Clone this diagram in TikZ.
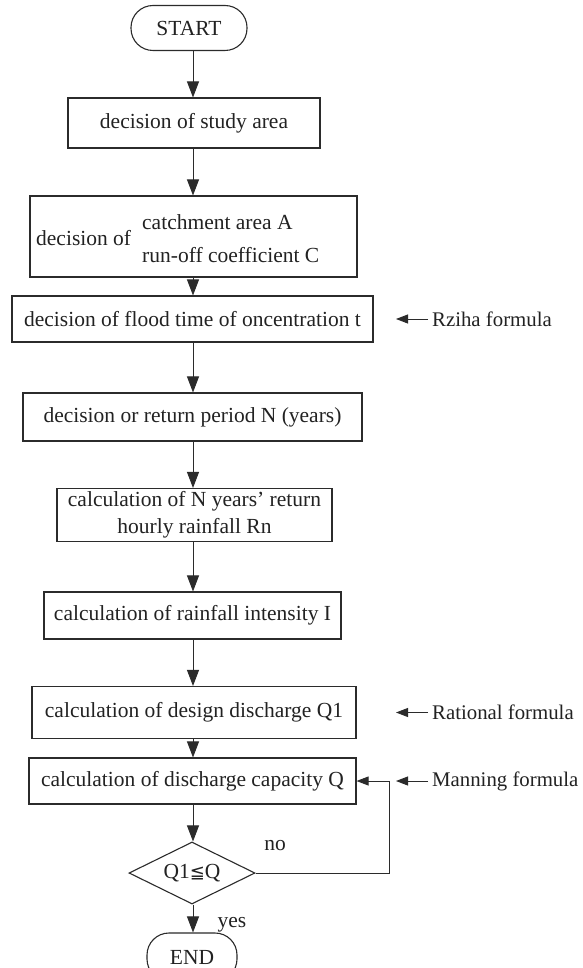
\documentclass[tikz,border=0pt]{standalone}
\usepackage{fontspec}
\setmainfont{Liberation Serif}
\newfontfamily\symfont{DejaVu Sans}
\usetikzlibrary{arrows.meta,shapes.geometric}
\definecolor{linec}{HTML}{2B2B2B}
\definecolor{textc}{HTML}{222222}
\begin{document}
\begin{tikzpicture}[x=1pt,y=-1pt,
  font=\fontsize{21.5}{25}\selectfont,
  box/.style={draw=linec, line width=1.1pt, inner sep=0pt, text=textc, rectangle},
  term/.style={box, rounded corners=22pt},
  lbl/.style={inner sep=0pt, text=textc},
  flbl/.style={lbl, anchor=west, font=\fontsize{20.8}{25}\selectfont},
  arr/.style={draw=linec, line width=0.9pt, -{Triangle[length=16pt,width=12pt]}},
  sarr/.style={draw=linec, line width=0.9pt, -{Triangle[length=12pt,width=9pt]}}]
\clip (0,0) rectangle (582,968);
\fill[white] (0,0) rectangle (582,968);

\node[term, minimum width=116, minimum height=45] (start) at (189,28) {START};
\node[box, minimum width=252, minimum height=50] (b1) at (194,123) {decision of study area};
\node[box, minimum width=327, minimum height=81] (b2) at (193.5,236.5) {};
\node[lbl, anchor=west] (b2l) at (36,238) {decision of};
\node[lbl, anchor=west] (b2a) at (142,222) {catchment area A};
\node[lbl, anchor=west] (b2b) at (142,255) {run-off coefficient C};
\node[box, minimum width=361, minimum height=46] (b3) at (192.5,319) {decision of flood time of oncentration t};
\node[box, minimum width=339, minimum height=48] (b4) at (192.5,417) {decision or return period N (years)};
\node[box, minimum width=275, minimum height=53, align=center] (b5) at (194.5,515) {calculation of N years’ return\\[2pt]hourly rainfall Rn};
\node[box, minimum width=297, minimum height=47] (b6) at (192.5,615.5) {calculation of rainfall intensity I};
\node[box, minimum width=324, minimum height=52] (b7) at (194,712.5) {calculation of design discharge Q1};
\node[box, minimum width=327, minimum height=46] (b8) at (192.5,781) {calculation of discharge capacity Q};
\node[diamond, draw=linec, line width=1.1pt, inner sep=0pt, aspect=2, text=textc,
      minimum width=126, minimum height=62] (dec) at (192,873) {Q1{\symfont\fontsize{18}{20}\selectfont ≦}Q};
\node[term, minimum width=90, minimum height=48] (end) at (192,957) {END};

\draw[arr] (start.south -| 193,0) -- (b1.north -| 193,0);
\draw[arr] (b1.south -| 193,0) -- (b2.north -| 193,0);
\draw[arr] (b2.south -| 193,0) -- (b3.north -| 193,0);
\draw[arr] (b3.south -| 193,0) -- (b4.north -| 193,0);
\draw[arr] (b4.south -| 193,0) -- (b5.north -| 193,0);
\draw[arr] (b5.south -| 193,0) -- (b6.north -| 193,0);
\draw[arr] (b6.south -| 193,0) -- (b7.north -| 193,0);
\draw[arr] (b7.south -| 193,0) -- (b8.north -| 193,0);
\draw[arr] (b8.south -| 193,0) -- (dec.north -| 193,0);
\draw[arr] (dec.south -| 193,0) -- (end.north -| 193,0);

\coordinate (loop) at (389,873);
\draw[sarr] (dec.east) -- (loop) |- (b8.east);

\node[lbl] (no) at (275,846) {no};
\node[lbl] (yes) at (232,925) {yes};

\node[flbl] (rziha) at (432,319) {Rziha formula};
\node[flbl] (rational) at (432,712.5) {Rational formula};
\node[flbl] (manning) at (432,781) {Manning formula};
\coordinate (rzt) at (396,319);
\coordinate (rat) at (396,712.5);
\coordinate (mat) at (396,781);
\draw[sarr] (rziha.west) ++(-4,0) -- (rzt);
\draw[sarr] (rational.west) ++(-4,0) -- (rat);
\draw[sarr] (manning.west) ++(-4,0) -- (mat);
\end{tikzpicture}
\end{document}
